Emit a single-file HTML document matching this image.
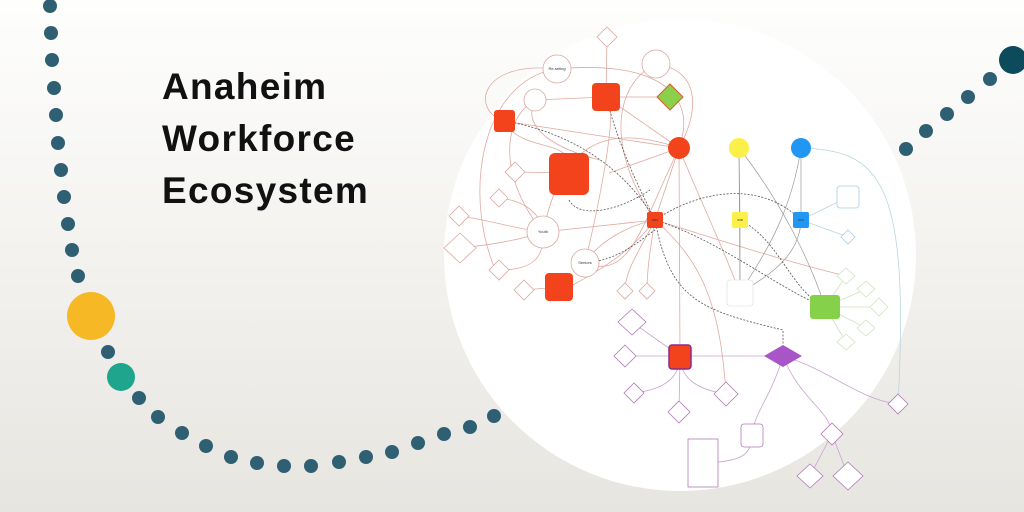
<!DOCTYPE html>
<html><head><meta charset="utf-8"><style>
html,body{margin:0;padding:0;width:1024px;height:512px;overflow:hidden}
body{background:linear-gradient(180deg,#fefefd 0%,#f3f2ef 50%,#e7e5e0 100%);position:relative;font-family:"Liberation Sans",sans-serif}
.t{position:absolute;left:162px;font-weight:bold;font-size:37px;color:#111;letter-spacing:1.3px}
</style></head><body>
<div class="t" style="top:66px">Anaheim</div>
<div class="t" style="top:118px">Workforce</div>
<div class="t" style="top:170px">Ecosystem</div>
<svg width="1024" height="512" style="position:absolute;left:0;top:0" font-family="Liberation Sans" font-size="3">
<circle cx="680" cy="255" r="236" fill="#fff"/>
<g fill="#2e5f73">
<circle cx="50" cy="6" r="7"/><circle cx="51" cy="33" r="7"/><circle cx="52" cy="60" r="7"/><circle cx="54" cy="88" r="7"/><circle cx="56" cy="115" r="7"/><circle cx="58" cy="143" r="7"/><circle cx="61" cy="170" r="7"/><circle cx="64" cy="197" r="7"/><circle cx="68" cy="224" r="7"/><circle cx="72" cy="250" r="7"/><circle cx="78" cy="276" r="7"/>
<circle cx="108" cy="352" r="7"/><circle cx="139" cy="398" r="7"/><circle cx="158" cy="417" r="7"/><circle cx="182" cy="433" r="7"/><circle cx="206" cy="446" r="7"/><circle cx="231" cy="457" r="7"/><circle cx="257" cy="463" r="7"/><circle cx="284" cy="466" r="7"/><circle cx="311" cy="466" r="7"/><circle cx="339" cy="462" r="7"/><circle cx="366" cy="457" r="7"/><circle cx="392" cy="452" r="7"/><circle cx="418" cy="443" r="7"/><circle cx="444" cy="434" r="7"/><circle cx="470" cy="427" r="7"/><circle cx="494" cy="416" r="7"/>
<circle cx="906" cy="149" r="7"/><circle cx="926" cy="131" r="7"/><circle cx="947" cy="114" r="7"/><circle cx="968" cy="97" r="7"/><circle cx="990" cy="79" r="7"/>
</g>
<circle cx="1013" cy="60" r="14" fill="#0d4a5c"/>
<circle cx="91" cy="316" r="24" fill="#f6b824"/>
<circle cx="121" cy="377" r="14" fill="#1fa58e"/>
<g fill="none" stroke="#e0a9a0" stroke-width="0.8">
<path d="M557 69 C480 80 460 200 500 280"/><path d="M557 69 C650 60 700 90 679 148"/>
<path d="M606 97 L679 148"/><path d="M535 100 L606 97"/><path d="M606 97 L670 97"/>
<path d="M656 64 C620 80 600 140 655 220"/><path d="M656 64 C700 70 700 110 679 148"/>
<path d="M607 37 L606 97"/><path d="M504 121 C520 150 560 140 569 160"/>
<path d="M543 232 L655 220"/><path d="M543 232 C560 150 600 120 679 148"/>
<path d="M515 172 L569 173"/><path d="M499 198 C520 200 540 210 543 232"/>
<path d="M459 216 C490 220 520 230 543 232"/><path d="M460 248 C490 245 520 240 543 232"/>
<path d="M499 270 C530 270 545 260 543 232"/><path d="M524 290 L559 287"/>
<path d="M585 263 C600 200 620 100 606 97"/><path d="M585 263 C600 240 630 225 655 220"/>
<path d="M679 148 L680 356"/><path d="M679 148 L655 220"/><path d="M679 148 C700 200 720 240 740 293"/>
<path d="M655 220 C640 250 625 270 625 291"/><path d="M655 220 C650 250 647 270 647 291"/>
<path d="M655 220 C720 240 780 260 846 276"/><path d="M655 220 C700 260 720 300 726 394"/>
<path d="M609 173 L679 148"/><path d="M569 287 C620 260 640 240 655 220"/>
<path d="M504 121 C470 110 480 60 557 69"/><path d="M504 121 L679 148"/>
<path d="M535 100 C520 130 560 150 600 160"/><path d="M543 232 C500 180 500 120 535 100"/>
<path d="M585 263 C630 280 640 230 679 148"/>
</g>
<g fill="none" stroke="#999" stroke-width="0.7">
<path d="M739 148 L740 220"/><path d="M739 148 L740 293"/><path d="M801 148 L801 220"/><path d="M801 148 C790 220 760 260 740 293"/>
<path d="M740 220 L740 293"/><path d="M801 220 C800 260 760 280 740 293"/><path d="M739 148 C780 200 810 260 825 307"/>
</g>
<g fill="none" stroke="#b8d5e0" stroke-width="0.8">
<path d="M801 148 C880 150 910 180 898 404"/><path d="M801 220 L848 197"/><path d="M801 220 L848 237"/>
</g>
<g fill="none" stroke="#cfe3bf" stroke-width="0.8">
<path d="M825 307 L846 276"/><path d="M825 307 L866 289"/><path d="M825 307 L879 307"/><path d="M825 307 L866 328"/><path d="M825 307 L846 342"/>
</g>
<g fill="none" stroke="#c9a4cf" stroke-width="0.8">
<path d="M632 322 L680 356"/><path d="M625 356 L680 356"/><path d="M634 393 C660 390 680 380 680 356"/><path d="M679 412 L680 356"/><path d="M726 394 C700 390 680 380 680 356"/>
<path d="M680 356 L783 356"/><path d="M783 356 C830 370 860 400 898 404"/><path d="M783 356 C770 400 755 410 752 435"/><path d="M783 356 C800 400 830 410 832 434"/>
<path d="M832 434 L810 476"/><path d="M832 434 L848 476"/><path d="M752 435 C752 455 740 460 718 462"/>
</g>
<g fill="none" stroke="#555" stroke-width="0.8" stroke-dasharray="2,1.5">
<path d="M655 220 C700 190 760 180 801 220"/><path d="M655 220 C720 240 780 290 825 307"/>
<path d="M655 220 C670 300 700 310 783 330 L783 345"/><path d="M740 220 C780 240 790 290 825 307"/>
<path d="M606 97 C620 150 640 190 655 220"/><path d="M504 121 C560 130 620 160 655 220"/>
<path d="M585 263 C620 260 640 240 655 230"/><path d="M569 200 C580 220 620 210 650 190"/>
</g>
<g stroke="#dba79f" stroke-width="0.8" fill="#fff">
<path d="M607 27 L617 37 L607 47 L597 37Z"/>
<circle cx="557" cy="69" r="14"/><circle cx="656" cy="64" r="14"/><circle cx="535" cy="100" r="11"/>
<path d="M515 162 L525 172 L515 182 L505 172Z"/><path d="M499 189 L508 198 L499 207 L490 198Z"/>
<path d="M459 206 L469 216 L459 226 L449 216Z"/><path d="M460 233 L476 248 L460 263 L444 248Z"/>
<circle cx="543" cy="232" r="16"/><circle cx="585" cy="263" r="14"/>
<path d="M499 260 L509 270 L499 280 L489 270Z"/><path d="M524 280 L534 290 L524 300 L514 290Z"/>
<path d="M625 283 L633 291 L625 299 L617 291Z"/><path d="M647 283 L655 291 L647 299 L639 291Z"/>
</g>
<rect x="727" y="280" width="26" height="26" rx="3" fill="#fff" stroke="#ddd" stroke-width="0.6"/>
<g fill="#f2431c">
<rect x="592" y="83" width="28" height="28" rx="4"/><rect x="494" y="110" width="21" height="22" rx="3"/>
<rect x="549" y="153" width="40" height="42" rx="6"/><rect x="647" y="212" width="16" height="16" rx="2"/>
<rect x="545" y="273" width="28" height="28" rx="4"/><circle cx="679" cy="148" r="11"/>
</g>
<path d="M670 84 L683 97 L670 110 L657 97Z" fill="#8bd04a" stroke="#e05a2a" stroke-width="1"/>
<circle cx="739" cy="148" r="10" fill="#fbef4a"/><rect x="732" y="212" width="16" height="16" rx="2" fill="#fbef4a"/>
<circle cx="801" cy="148" r="10" fill="#2196f3"/><rect x="793" y="212" width="16" height="16" rx="2" fill="#2196f3"/>
<rect x="837" y="186" width="22" height="22" rx="3" fill="#fff" stroke="#a7cde0" stroke-width="0.8"/>
<path d="M848 230 L855 237 L848 244 L841 237Z" fill="#fff" stroke="#a7cde0" stroke-width="0.8"/>
<rect x="810" y="295" width="30" height="24" rx="3" fill="#85d14a"/>
<g fill="#fff" stroke="#cfe3bf" stroke-width="0.8">
<path d="M846 268 L855 276 L846 284 L837 276Z"/><path d="M866 281 L875 289 L866 297 L857 289Z"/><path d="M879 298 L888 307 L879 316 L870 307Z"/><path d="M866 320 L875 328 L866 336 L857 328Z"/><path d="M846 334 L855 342 L846 350 L837 342Z"/>
</g>
<g fill="#fff" stroke="#b07ab8" stroke-width="0.8">
<path d="M632 309 L646 322 L632 335 L618 322Z"/><path d="M625 345 L636 356 L625 367 L614 356Z"/><path d="M634 383 L644 393 L634 403 L624 393Z"/><path d="M679 401 L690 412 L679 423 L668 412Z"/><path d="M726 382 L738 394 L726 406 L714 394Z"/>
<path d="M898 394 L908 404 L898 414 L888 404Z"/><rect x="741" y="424" width="22" height="23" rx="3"/><rect x="688" y="439" width="30" height="48"/>
<path d="M832 423 L843 434 L832 445 L821 434Z"/><path d="M810 464 L823 476 L810 488 L797 476Z"/><path d="M848 462 L863 476 L848 490 L833 476Z"/>
</g>
<rect x="669" y="345" width="22" height="24" rx="3" fill="#f2431c" stroke="#8a2a8a" stroke-width="1.5"/>
<path d="M764 356 L783 345 L802 356 L783 367Z" fill="#a855c8"/>
<g fill="#333" text-anchor="middle">
<text x="557" y="70" font-size="4">Re-seting</text><text x="543" y="233" font-size="4">Youth</text><text x="585" y="264" font-size="4">Seniors</text>
<text x="655" y="221">SMC</text><text x="740" y="221">WIB</text><text x="801" y="221">SCS</text>
</g>
</svg>
</body></html>
